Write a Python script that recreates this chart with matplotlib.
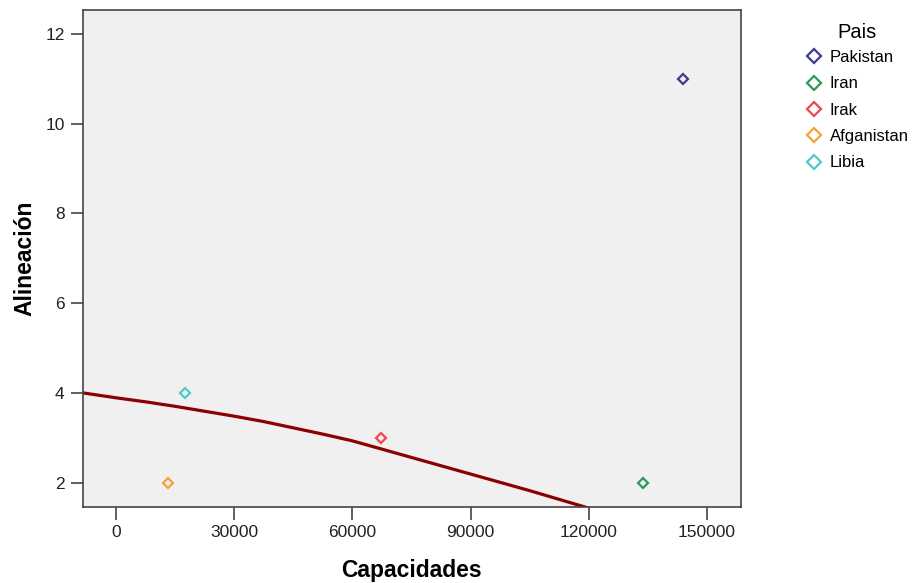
"""
Scatter of Alineación vs. Capacidades by country (SPSS-style) with the
fitted trend curve drawn in dark red.
"""

import matplotlib
matplotlib.use("Agg")
import matplotlib.pyplot as plt
from matplotlib.lines import Line2D

plt.rcParams["font.family"] = ["Liberation Sans", "DejaVu Sans"]

# Points, one per country
PAISES = ["Pakistan", "Iran", "Irak", "Afganistan", "Libia"]
CAPACIDADES = [144000, 133700, 67300, 13300, 17600]
ALINEACION = [11, 2, 3, 2, 4]
COLORES = ["#3d3b8e", "#2b9a58", "#f0444f", "#f8a03a", "#4fc9c9"]

# Fitted curve
FIT_X = [-8450, 0, 7500, 15000, 22500, 30000, 37500, 45000, 52500, 60000,
         75000, 90000, 105000, 120000]
FIT_Y = [4.00, 3.89, 3.80, 3.70, 3.59, 3.48, 3.36, 3.22, 3.08, 2.93,
         2.56, 2.19, 1.82, 1.43]

X_TICKS = [0, 30000, 60000, 90000, 120000, 150000]
Y_TICKS = [2, 4, 6, 8, 10, 12]

FRAME = "#444444"


def main():
    fig = plt.figure(figsize=(9.19, 5.83), dpi=100)
    ax = fig.add_axes([0.090, 0.130, 0.716, 0.853])
    ax.set_facecolor("#f0f0f0")

    ax.plot(FIT_X, FIT_Y, color="#8b0000", lw=2.3, zorder=2,
            solid_capstyle="butt", solid_joinstyle="round")

    for pais, x, y, c in zip(PAISES, CAPACIDADES, ALINEACION, COLORES):
        ax.plot([x], [y], ls="none", marker="D", ms=5.0, mfc="none",
                mec=c, mew=1.6, zorder=3, label=pais)

    ax.set_xlim(-8450, 158600)
    ax.set_ylim(1.45, 12.54)
    ax.set_xticks(X_TICKS)
    ax.set_yticks(Y_TICKS)
    ax.set_xticklabels([str(t) for t in X_TICKS])

    for side in ax.spines.values():
        side.set_color(FRAME)
        side.set_linewidth(1.2)
    ax.tick_params(direction="out", length=9, width=1.2, color=FRAME,
                   labelsize=12.5, labelcolor="#222222", pad=4)

    ax.set_xlabel("Capacidades", fontsize=16.5, fontweight="bold")
    ax.set_ylabel("Alineación", fontsize=16.5, fontweight="bold")
    ax.xaxis.set_label_coords(0.5, -0.104)
    ax.yaxis.set_label_coords(-0.070, 0.5)

    handles = [Line2D([], [], ls="none", marker="D", ms=7.6, mfc="none",
                      mec=c, mew=1.6) for c in COLORES]
    leg = fig.legend(handles, PAISES, title="Pais", loc="upper left",
                     bbox_to_anchor=(0.868, 0.974), frameon=False,
                     fontsize=12, title_fontsize=14.5, handlelength=1.0,
                     handletextpad=0.42, labelspacing=0.68, borderpad=0)
    leg._legend_box.align = "center"
    leg._legend_box.sep = 5.5   # tighter gap under the title

    fig.savefig("out.png", dpi=100)


if __name__ == "__main__":
    main()
